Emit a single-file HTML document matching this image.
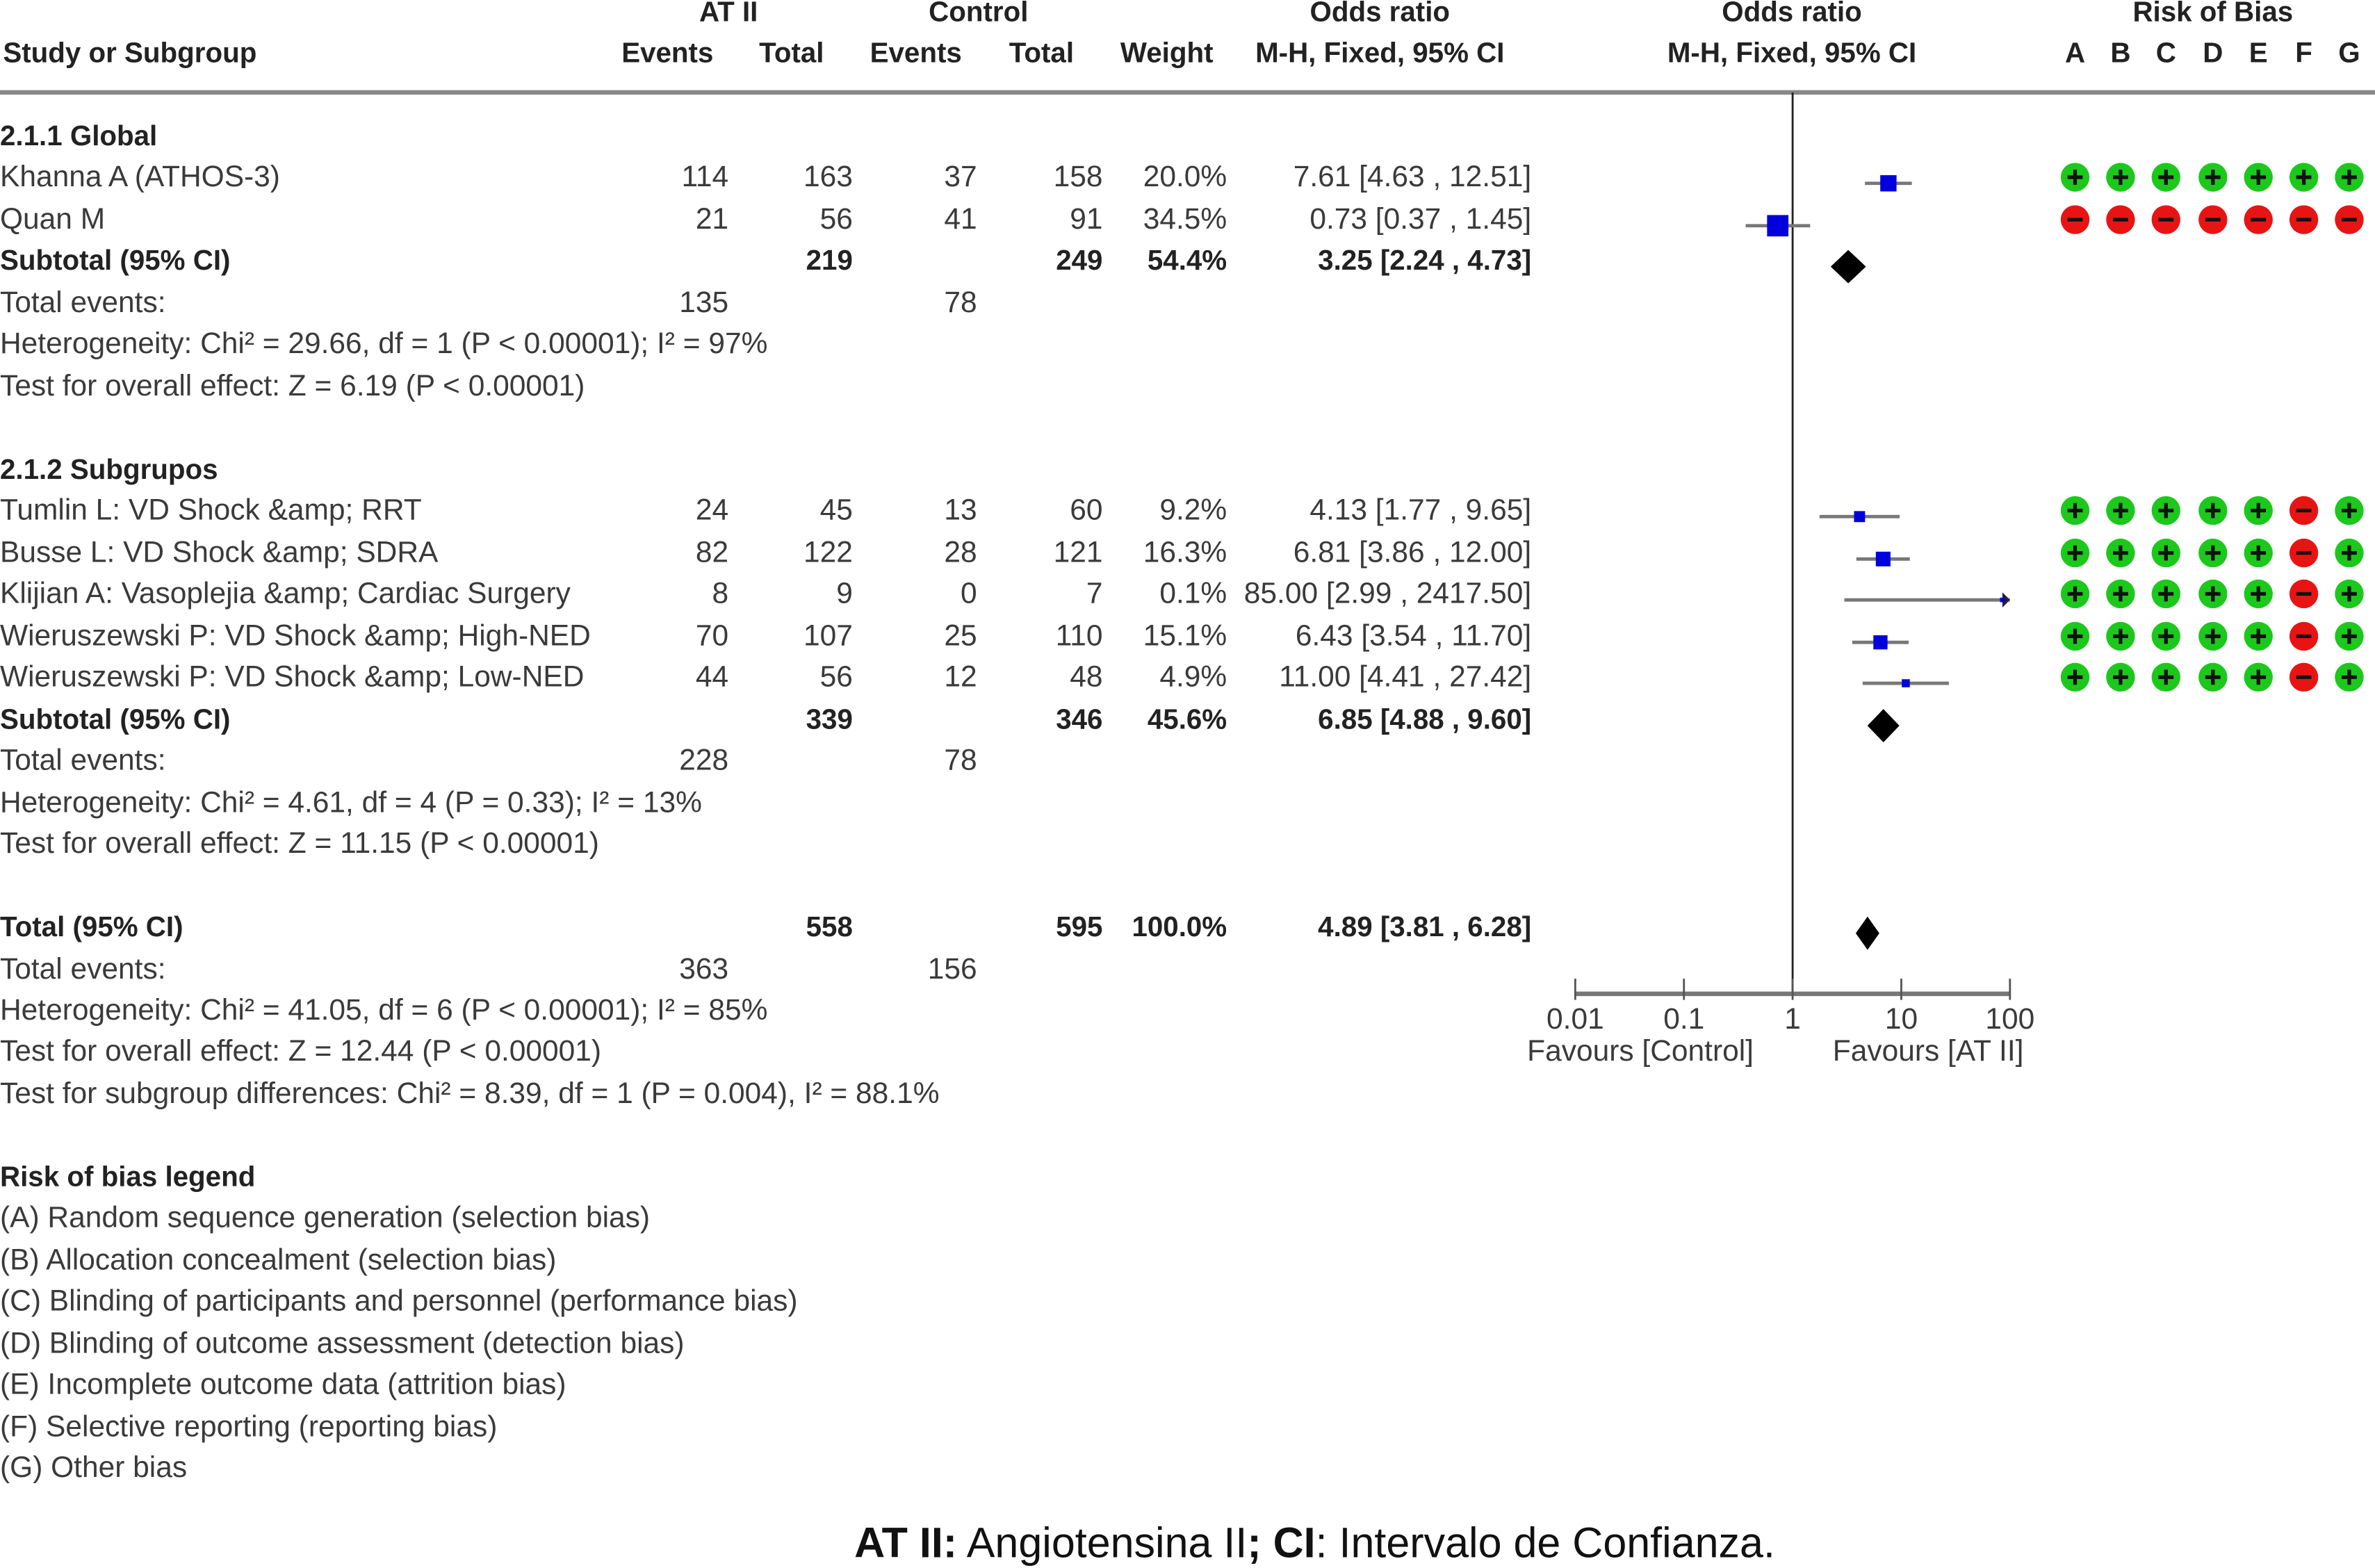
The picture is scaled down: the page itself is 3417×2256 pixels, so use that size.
<!DOCTYPE html>
<html><head><meta charset="utf-8"><style>
html,body{margin:0;padding:0;background:#fff;}
svg{display:block;}
text{font-family:"Liberation Sans",Arial,sans-serif;font-size:19.5px;fill:#3a3a3a;}
.b{font-weight:bold;fill:#222;font-size:18.5px;}
</style></head><body>
<svg id="chart" width="3417" height="2256" viewBox="0 0 1568 1035" preserveAspectRatio="none" xmlns="http://www.w3.org/2000/svg">
<g id="g"></g>
<text x="868" y="1028" text-anchor="middle" style="font-size:28px;fill:#111"><tspan font-weight="bold">AT II:</tspan> Angiotensina II<tspan font-weight="bold">; CI</tspan>: Intervalo de Confianza.</text>
</svg>
<script>
// ---- data ----
const studies = ["Khanna A (ATHOS-3)","Quan M","Tumlin L: VD Shock &amp;amp; RRT","Busse L: VD Shock &amp;amp; SDRA","Klijian A: Vasoplejia &amp;amp; Cardiac Surgery","Wieruszewski P: VD Shock &amp;amp; High-NED","Wieruszewski P: VD Shock &amp;amp; Low-NED"];
const expEvents = [114,21,24,82,8,70,44];
const expTotal = [163,56,45,122,9,107,56];
const ctlEvents = [37,41,13,28,0,25,12];
const ctlTotal = [158,91,60,121,7,110,48];
const weights = [20.0,34.5,9.2,16.3,0.1,15.1,4.9];
const orVals = [7.61,0.73,4.13,6.81,85.00,6.43,11.00];
const orLow = [4.63,0.37,1.77,3.86,2.99,3.54,4.41];
const orHigh = [12.51,1.45,9.65,12.00,2417.50,11.70,27.42];
const rob = ["+++++++","-------","+++++-+","+++++-+","+++++-+","+++++-+","+++++-+"];
const studyRows = [117,145,337,365,392,420,447];
const summaryOR = [3.25,6.85,4.89];
const summaryLow = [2.24,4.88,3.81];
const summaryHigh = [4.73,9.60,6.28];
const summaryRows = [172,475,612];
const axisTicks = [0.01,0.1,1,10,100];
const tickLabels = ["0.01","0.1","1","10","100"];
// ---- scale ----
const X0=1040,X1=1327,AX=656;
const xs=v=>X0+(Math.log10(v)+2)/4*(X1-X0);
const g=document.getElementById('g');
const NS='http://www.w3.org/2000/svg';
function mk(tag,attrs,name){const e=document.createElementNS(NS,tag);for(const k in attrs)e.setAttribute(k,attrs[k]);


g.appendChild(e);return e;}
function t(x,y,s,anchor,cls,name){const e=mk('text',{x:x,y:y+6,'text-anchor':anchor||'start'},name||'label');if(cls)e.setAttribute('class',cls);e.innerHTML=s;return e;}
// headers
t(481,8,'AT II','middle','b','header-at2');t(646,8,'Control','middle','b','header-control');
t(911,8,'Odds ratio','middle','b','header-or');t(1183,8,'Odds ratio','middle','b','header-or-plot');
t(1461,8,'Risk of Bias','middle','b','header-rob');
t(2,35,'Study or Subgroup','start','b','header-study');
t(471,35,'Events','end','b','header-events');t(544,35,'Total','end','b','header-total');
t(635,35,'Events','end','b','header-events-ctl');t(709,35,'Total','end','b','header-total-ctl');
t(801,35,'Weight','end','b','header-weight');t(911,35,'M-H, Fixed, 95% CI','middle','b','header-mh');
t(1183,35,'M-H, Fixed, 95% CI','middle','b','header-mh-plot');
const letters=['A','B','C','D','E','F','G'];const lx=[1370,1400,1430,1461,1491,1521,1551];
letters.forEach((l,i)=>t(lx[i],35,l,'middle','b','rob-letter-'+l));
mk('rect',{x:0,y:59.5,width:1568,height:3,fill:'#888'},'header-rule');
// null line
mk('line',{x1:xs(1),y1:61,x2:xs(1),y2:AX,stroke:'#222','stroke-width':1.3},'null-line');
// axis
mk('line',{x1:X0,y1:AX,x2:X1,y2:AX,stroke:'#777','stroke-width':3},'x-axis');
axisTicks.forEach((v,i)=>{mk('line',{x1:xs(v),y1:AX-10,x2:xs(v),y2:AX+4,stroke:'#555','stroke-width':1.3},'x-tick');
t(xs(v),673,tickLabels[i],'middle',null,'x-tick-label');});
t(1083,694,'Favours [Control]','middle',null,'favours-control');t(1273,694,'Favours [AT II]','middle',null,'favours-at2');
// study rows
const f2=v=>v.toFixed(2);
studies.forEach((s,i)=>{const y=studyRows[i];
t(0,y,s,'start',null,'study-name');
t(481,y,expEvents[i],'end',null,'exp-events');t(563,y,expTotal[i],'end',null,'exp-total');
t(645,y,ctlEvents[i],'end',null,'ctl-events');t(728,y,ctlTotal[i],'end',null,'ctl-total');
t(810,y,weights[i].toFixed(1)+'%','end',null,'weight');
t(1011,y,f2(orVals[i])+' ['+f2(orLow[i])+' , '+f2(orHigh[i])+']','end',null,'or-ci');
const my=y+4;const hi=Math.min(orHigh[i],100);
mk('line',{x1:xs(orLow[i]),y1:my,x2:xs(hi),y2:my,stroke:'#777','stroke-width':2.2},'ci-line');
if(orHigh[i]>100)mk('polygon',{points:(xs(100)-5)+','+(my-5)+' '+xs(100)+','+my+' '+(xs(100)-5)+','+(my+5),fill:'#223'},'ci-arrow');
const sz=Math.max(3,2.4*Math.sqrt(weights[i]));
if(orVals[i]<=100)mk('rect',{x:xs(orVals[i])-sz/2,y:my-sz/2,width:sz,height:sz,fill:'#0000dd'},'study-marker');
for(let k=0;k<7;k++){const plus=rob[i][k]==='+';
mk('circle',{cx:lx[k],cy:y,r:9.5,fill:plus?'#1cc81c':'#e81414'},'rob-dot');
mk('rect',{x:lx[k]-5,y:y-1.2,width:10,height:2.4,fill:'#111'},'rob-bar');
if(plus)mk('rect',{x:lx[k]-1.2,y:y-5,width:2.4,height:10,fill:'#111'},'rob-bar-v');}
});
// summary diamonds
summaryOR.forEach((v,i)=>{const y=summaryRows[i]+4;
mk('polygon',{points:xs(summaryLow[i])+','+y+' '+xs(v)+','+(y-11)+' '+xs(summaryHigh[i])+','+y+' '+xs(v)+','+(y+11),fill:'#000'},'summary-diamond');});
// other text rows
const rows=[[90,'2.1.1 Global','b'],[172,'Subtotal (95% CI)','b'],[200,'Total events:'],[227,'Heterogeneity: Chi² = 29.66, df = 1 (P &lt; 0.00001); I² = 97%'],[255,'Test for overall effect: Z = 6.19 (P &lt; 0.00001)'],
[310,'2.1.2 Subgrupos','b'],[475,'Subtotal (95% CI)','b'],[502,'Total events:'],[530,'Heterogeneity: Chi² = 4.61, df = 4 (P = 0.33); I² = 13%'],[557,'Test for overall effect: Z = 11.15 (P &lt; 0.00001)'],
[612,'Total (95% CI)','b'],[640,'Total events:'],[667,'Heterogeneity: Chi² = 41.05, df = 6 (P &lt; 0.00001); I² = 85%'],[694,'Test for overall effect: Z = 12.44 (P &lt; 0.00001)'],[722,'Test for subgroup differences: Chi² = 8.39, df = 1 (P = 0.004), I² = 88.1%'],
[777,'Risk of bias legend','b'],[804,'(A) Random sequence generation (selection bias)'],[832,'(B) Allocation concealment (selection bias)'],[859,'(C) Blinding of participants and personnel (performance bias)'],[887,'(D) Blinding of outcome assessment (detection bias)'],[914,'(E) Incomplete outcome data (attrition bias)'],[942,'(F) Selective reporting (reporting bias)'],[969,'(G) Other bias']];
rows.forEach(r=>t(0,r[0],r[1],'start',r[2]||null,'row-text'));
// summary values
const sums=[[172,'219','249','54.4%','3.25 [2.24 , 4.73]'],[475,'339','346','45.6%','6.85 [4.88 , 9.60]'],[612,'558','595','100.0%','4.89 [3.81 , 6.28]']];
sums.forEach(s=>{t(563,s[0],s[1],'end','b','subtotal-exp');t(728,s[0],s[2],'end','b','subtotal-ctl');t(810,s[0],s[3],'end','b','subtotal-weight');t(1011,s[0],s[4],'end','b','subtotal-or');});
[[200,'135','78'],[502,'228','78'],[640,'363','156']].forEach(s=>{t(481,s[0],s[1],'end',null,'total-events-exp');t(645,s[0],s[2],'end',null,'total-events-ctl');});
</script>
</body></html>
